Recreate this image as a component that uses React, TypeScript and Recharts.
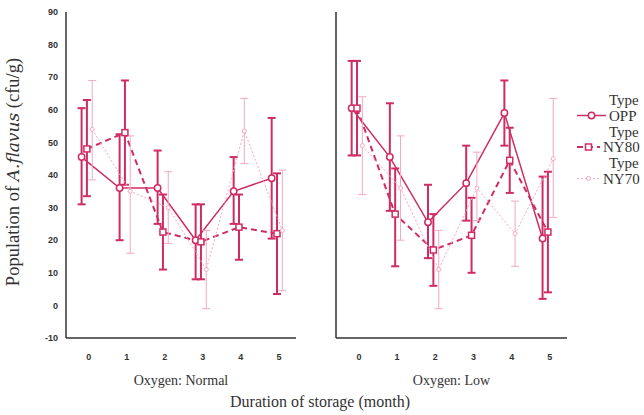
import { LineChart, Line, XAxis, YAxis, ErrorBar } from "recharts";

const months = [0, 1, 2, 3, 4, 5];
const yTicks = [-10, 0, 10, 20, 30, 40, 50, 60, 70, 80, 90];
const seriesNames = ["OPP", "NY80", "NY70"];

// Oxygen: Normal
const oppNormalMean = [45.5, 36, 36, 20, 35, 39];
const oppNormalLow = [31, 20, 25, 8, 25, 20.5];
const oppNormalHigh = [60.5, 52.5, 47.5, 31, 45.5, 57.5];
const ny80NormalMean = [48, 53, 22.5, 19.5, 24, 22];
const ny80NormalLow = [33.5, 37, 11, 8, 14, 3.5];
const ny80NormalHigh = [63, 69, 34, 31, 34, 40.5];
const ny70NormalMean = [54, 35, 30, 11, 53.5, 23];
const ny70NormalLow = [38.5, 16, 19, -1, 43.5, 4.5];
const ny70NormalHigh = [69, 52, 41, 23, 63.5, 41.5];

// Oxygen: Low
const oppLowMean = [60.5, 45.5, 25.5, 37.5, 59, 20.5];
const oppLowLow = [46, 29, 14.5, 26, 49, 2];
const oppLowHigh = [75, 62, 37, 49, 69, 39.5];
const ny80LowMean = [60.5, 28, 17, 21.5, 44.5, 22.5];
const ny80LowLow = [46, 12, 6, 10, 34.5, 4];
const ny80LowHigh = [75, 42, 28, 33, 54.5, 41];
const ny70LowMean = [49, 36, 11, 36, 22, 45];
const ny70LowLow = [34, 20, -1, 26, 12, 27];
const ny70LowHigh = [64, 52, 23, 47, 32, 63.5];

const DARK = "#cf2c64";
const LIGHT = "#f4a8c2";

const styles = [
  { color: DARK, dash: undefined, width: 1.5, barWidth: 2, shift: -0.19, marker: "circle", textX: 609 },
  { color: DARK, dash: "6 4", width: 2, barWidth: 2, shift: -0.05, marker: "square", textX: 603 },
  { color: LIGHT, dash: "2 2", width: 1, barWidth: 1, shift: 0.09, marker: "dot", textX: 603 },
];

const build = (mean: number[], low: number[], high: number[], shift: number) =>
  months.map((m, i) => ({
    x: m + shift,
    y: mean[i],
    err: [mean[i] - low[i], high[i] - mean[i]],
  }));

const makeDot = (kind: string, color: string) => (p: any) => {
  if (p.cx == null || p.cy == null) return <g key={p.index} />;
  if (kind === "square")
    return <rect key={p.index} x={p.cx - 3} y={p.cy - 3} width={6} height={6} fill="#fff" stroke={color} strokeWidth={1.5} />;
  if (kind === "dot")
    return <circle key={p.index} cx={p.cx} cy={p.cy} r={2} fill="#fff" stroke={color} strokeWidth={1} />;
  return <circle key={p.index} cx={p.cx} cy={p.cy} r={3.2} fill="#fff" stroke={color} strokeWidth={1.5} />;
};

const tickStyle = { fontSize: 9, fill: "#333", fontFamily: "Liberation Sans, Arial, sans-serif", fontWeight: 700 };

const YLabel = (props: any) => {
  const vb = props.viewBox || { x: 0, y: 12, width: 66, height: 326 };
  const cx = 19;
  const cy = vb.y + vb.height / 2 - 3;
  return (
    <text
      x={cx}
      y={cy}
      transform={`rotate(-90 ${cx} ${cy})`}
      textAnchor="middle"
      fontFamily="Liberation Serif, serif"
      fontSize={18.5}
      fill="#333"
    >
      Population of <tspan fontStyle="italic" fontFamily="DejaVu Serif, serif" fontSize={17}>A.flavus</tspan> (cfu/g)
    </text>
  );
};

const Panel = ({ title, data, showY }: { title: string; data: any[][]; showY: boolean }) => (
  <LineChart width={300} height={395} margin={{ top: 12, right: showY ? 4 : 3, left: 0, bottom: 0 }}>
    <XAxis
      type="number"
      dataKey="x"
      domain={[-0.6, 5.45]}
      ticks={months}
      allowDataOverflow
      tickLine={false}
      axisLine={{ stroke: "#333", strokeWidth: 1.5 }}
      tick={tickStyle}
      tickMargin={10}
      height={57}
      label={{ value: title, position: "insideBottom", offset: 10, fontSize: 14, fill: "#333", fontFamily: "Liberation Serif, serif" }}
    />
    <YAxis
      type="number"
      domain={[-10, 90]}
      ticks={yTicks}
      width={66}
      axisLine={{ stroke: "#333", strokeWidth: 1.5 }}
      tickLine={showY ? false : { stroke: "#555" }}
      tickSize={showY ? 6 : 3}
      tick={showY ? tickStyle : false}
      label={showY ? { content: YLabel } : undefined}
    />
    {data.map((d, i) => {
      const s = styles[i];
      return (
        <Line
          key={seriesNames[i]}
          data={d}
          dataKey="y"
          name={seriesNames[i]}
          stroke={s.color}
          strokeWidth={s.width}
          strokeDasharray={s.dash}
          dot={makeDot(s.marker, s.color)}
          activeDot={false}
          isAnimationActive={false}
        >
          <ErrorBar dataKey="err" direction="y" width={4} stroke={s.color} strokeWidth={s.barWidth} />
        </Line>
      );
    })}
  </LineChart>
);

const normalData = [
  build(oppNormalMean, oppNormalLow, oppNormalHigh, styles[0].shift),
  build(ny80NormalMean, ny80NormalLow, ny80NormalHigh, styles[1].shift),
  build(ny70NormalMean, ny70NormalLow, ny70NormalHigh, styles[2].shift),
];
const lowData = [
  build(oppLowMean, oppLowLow, oppLowHigh, styles[0].shift),
  build(ny80LowMean, ny80LowLow, ny80LowHigh, styles[1].shift),
  build(ny70LowMean, ny70LowLow, ny70LowHigh, styles[2].shift),
];

export default function App() {
  return (
    <div style={{ position: "absolute", left: 0, top: 0, width: 644, height: 415, background: "#fff", overflow: "hidden" }}>
      <div style={{ position: "absolute", left: 0, top: 0 }}>
        <Panel title="Oxygen: Normal" data={normalData} showY />
      </div>
      <div style={{ position: "absolute", left: 270, top: 0 }}>
        <Panel title="Oxygen: Low" data={lowData} showY={false} />
      </div>
      <svg width={644} height={415} style={{ position: "absolute", left: 0, top: 0, pointerEvents: "none" }}>
        <text x={320} y={407} textAnchor="middle" fontFamily="Liberation Serif, serif" fontSize={16} fill="#333">
          Duration of storage (month)
        </text>
        {seriesNames.map((name, i) => {
          const s = styles[i];
          const y0 = 100 + i * 31.5;
          const ly = y0 + 15.5;
          return (
            <g key={name}>
              <text x={609} y={y0 + 5} fontFamily="Liberation Serif, serif" fontSize={15} fill="#333">Type</text>
              <line x1={577} x2={s.textX - 3} y1={ly} y2={ly} stroke={s.color} strokeWidth={s.width} strokeDasharray={s.dash} />
              {makeDot(s.marker, s.color)({ cx: (577 + s.textX - 3) / 2, cy: ly, index: i })}
              <text x={s.textX} y={ly + 5} fontFamily="Liberation Serif, serif" fontSize={15} fill="#333">{name}</text>
            </g>
          );
        })}
      </svg>
    </div>
  );
}
